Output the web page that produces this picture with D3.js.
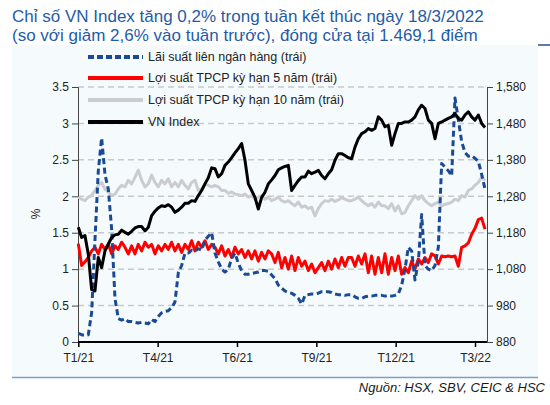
<!DOCTYPE html>
<html lang="vi">
<head>
<meta charset="utf-8">
<title>VN Index va lai suat</title>
<script src="https://cdn.jsdelivr.net/npm/d3@7"></script>
<style>
  body { margin: 0; background: #fff; }
  svg { font-family: "Liberation Sans", Arial, sans-serif; }
  .tick text { font-size: 12px; fill: #222; }
</style>
</head>
<body>
<svg id="chart" width="550" height="405"></svg>
<script>
// each point ~ 2.5 trading days, 18/3/2022 is the last point
var xLabels = ['T1/21', 'T4/21', 'T6/21', 'T9/21', 'T12/21', 'T3/22'];
var xLabelAt = [0, 23.8, 47.6, 71.4, 95.2, 119];

var leftTicks = [0, 0.5, 1, 1.5, 2, 2.5, 3, 3.5];
var rightTicks = [880, 980, 1080, 1180, 1280, 1380, 1480, 1580];

var vnIndex = [1195,1167,1172,1121,1024,1020,1112,1084,1130,1149,1167,1174,1176,1187,1181,1176,1184,1193,1197,1197,1185,1195,1227,1239,1248,1254,1252,1257,1250,1236,1242,1250,1261,1261,1268,1266,1282,1296,1314,1331,1358,
  1356,1333,1342,1365,1374,1386,1399,1411,1425,1379,1314,1296,1277,1245,1277,1291,1314,1325,1337,1353,1358,1362,1365,1296,1310,1323,1333,1333,1349,1342,1346,1351,1337,1328,1342,1353,1379,1397,1397,1392,1386,
  1383,1415,1438,1452,1457,1466,1461,1466,1498,1489,1471,1475,1420,1452,1480,1480,1484,1484,1489,1498,1517,1530,1521,1489,1480,1438,1480,1484,1489,1494,1498,1507,1494,1489,1503,1512,1498,1489,1503,1480,1469];

var bond10y = [1.99,1.96,1.94,1.99,2.01,2.08,2.15,2.19,2.10,2.06,2.01,2.03,2.10,2.15,2.13,2.22,2.17,2.26,2.36,2.22,2.13,2.17,2.29,2.19,2.13,2.22,2.17,2.24,2.13,2.19,2.13,2.22,2.15,2.10,2.19,2.22,2.08,2.10,2.17,2.15,2.13,
  2.15,2.13,2.08,2.08,2.04,2.06,2.03,2.02,2.01,2.03,1.99,2.01,1.96,1.99,2.01,1.96,1.99,1.94,1.96,1.99,1.94,1.92,1.94,1.90,1.87,1.92,1.85,1.87,1.83,1.85,1.73,1.83,1.90,1.94,1.93,1.96,1.93,1.95,1.98,1.96,1.94,
  1.94,1.96,1.99,1.94,1.90,1.87,1.90,1.85,1.92,1.87,1.87,1.83,1.90,1.80,1.87,1.76,1.78,1.87,1.94,2.01,1.96,2.01,1.94,1.90,1.87,1.90,1.92,1.87,1.89,1.90,1.92,1.96,1.94,2.01,1.99,2.08,2.10,2.15,2.19,2.26,2.22];

var bond5y = [1.35,1.05,1.10,1.16,1.25,1.30,1.21,1.34,1.27,1.34,1.21,1.32,1.27,1.37,1.30,1.21,1.32,1.21,1.34,1.25,1.37,1.30,1.34,1.21,1.32,1.25,1.34,1.27,1.37,1.25,1.34,1.23,1.34,1.27,1.39,1.25,1.37,1.30,1.39,1.27,1.34,
  1.30,1.21,1.32,1.18,1.27,1.16,1.30,1.21,1.27,1.16,1.25,1.14,1.25,1.11,1.23,1.14,1.25,1.21,1.09,1.23,1.02,1.16,1.00,1.18,0.98,1.16,1.04,1.11,0.98,1.07,0.95,1.02,1.09,0.98,1.11,1.00,1.14,1.02,1.16,1.04,1.16,
  1.16,1.04,1.18,1.07,1.21,0.95,1.18,0.93,1.16,0.95,1.21,0.93,1.16,0.98,1.18,0.93,1.02,0.95,1.11,1.00,1.14,1.07,1.16,1.09,1.21,1.18,1.07,1.18,1.17,1.18,1.17,1.18,1.04,1.30,1.32,1.36,1.48,1.56,1.68,1.70,1.55];

var interbank = [0.12,0.10,0.09,0.10,0.40,1.40,2.35,2.80,2.30,2.10,1.55,0.60,0.32,0.30,0.32,0.28,0.28,0.27,0.26,0.27,0.26,0.25,0.31,0.28,0.35,0.40,0.42,0.43,0.47,0.55,0.95,1.05,1.22,1.22,1.26,1.25,1.28,1.26,1.40,1.45,1.50,
  1.22,1.10,1.00,0.96,1.00,1.15,1.22,1.08,0.98,0.93,0.93,0.94,0.95,0.96,0.98,0.98,0.97,0.92,0.87,0.78,0.74,0.70,0.68,0.67,0.64,0.60,0.52,0.64,0.65,0.66,0.66,0.67,0.69,0.69,0.69,0.68,0.66,0.65,0.65,0.64,0.65,
  0.65,0.62,0.60,0.60,0.62,0.63,0.63,0.64,0.64,0.64,0.63,0.64,0.63,0.64,0.66,0.78,1.00,1.30,1.25,0.85,1.10,1.75,1.05,1.00,0.98,1.05,1.30,2.45,2.40,2.35,2.28,3.35,3.05,2.75,2.60,2.55,2.56,2.52,2.48,2.30,2.10];

var legendNames = ['Lãi suất liên ngân hàng (trái)', 'Lợi suất TPCP kỳ hạn 5 năm (trái)', 'Lợi suất TPCP kỳ hạn 10 năm (trái)', 'VN Index'];

var svg = d3.select('#chart');

// ---- frame ----
svg.append('rect')
  .attr('x', 12).attr('y', 45).attr('width', 526).attr('height', 332)
  .attr('fill', '#f5fbfd');
svg.append('line')
  .attr('x1', 12).attr('x2', 538).attr('y1', 377.5).attr('y2', 377.5)
  .attr('stroke', '#7e9cc6').attr('stroke-width', 1.5);
svg.append('line')
  .attr('x1', 538).attr('x2', 550).attr('y1', 45).attr('y2', 45)
  .attr('stroke', '#24508f').attr('stroke-width', 1.5);

// ---- title ----
var title = svg.append('g').attr('fill', '#1f5ca8').style('font-size', '17px');
title.append('text').attr('x', 12).attr('y', 22)
  .text('Chỉ số VN Index tăng 0,2% trong tuần kết thúc ngày 18/3/2022');
title.append('text').attr('x', 12).attr('y', 41)
  .text('(so với giảm 2,6% vào tuần trước), đóng cửa tại 1.469,1 điểm');

// ---- scales ----
var x = d3.scaleLinear().domain([0, vnIndex.length - 1]).range([78.3, 485]);
var yL = d3.scaleLinear().domain([0, 3.5]).range([342, 87]);
var yR = d3.scaleLinear().domain([880, 1580]).range([342, 87]);

// gridlines
svg.append('g')
  .selectAll('line')
  .data(leftTicks.slice(1))
  .enter()
  .append('line')
  .attr('x1', 78).attr('x2', 487)
  .attr('y1', function(d) { return yL(d); })
  .attr('y2', function(d) { return yL(d); })
  .attr('stroke', '#c9c9c9')
  .attr('stroke-width', 1.5)
  .attr('stroke-dasharray', '6,4');

// ---- axes ----
var axL = svg.append('g')
  .attr('transform', 'translate(78,0)')
  .call(d3.axisLeft(yL).tickValues(leftTicks).tickSize(6).tickPadding(3)
    .tickFormat(function(d) { return String(d); }));
var axR = svg.append('g')
  .attr('transform', 'translate(487,0)')
  .call(d3.axisRight(yR).tickValues(rightTicks).tickSize(6).tickPadding(3)
    .tickFormat(d3.format(',')));
[axL, axR].forEach(function(ax) {
  ax.select('.domain').attr('stroke', '#444');
  ax.selectAll('.tick line').attr('stroke', '#444');
});

svg.append('text')
  .attr('transform', 'translate(40,214) rotate(-90)')
  .attr('text-anchor', 'middle')
  .style('font-size', '12px')
  .attr('fill', '#222')
  .text('%');

// ---- series ----
var lineL = d3.line()
  .x(function(d, i) { return x(i); })
  .y(function(d) { return yL(d); });
var lineR = d3.line()
  .x(function(d, i) { return x(i); })
  .y(function(d) { return yR(d); });

var series = [
  { data: bond10y, line: lineL, color: '#cbccd1', dash: null },
  { data: bond5y, line: lineL, color: '#ff0000', dash: null },
  { data: interbank, line: lineL, color: '#1b4a94', dash: '6,3.5' },
  { data: vnIndex, line: lineR, color: '#000000', dash: null }
];

svg.append('g')
  .selectAll('path')
  .data(series)
  .enter()
  .append('path')
  .attr('d', function(d) { return d.line(d.data); })
  .attr('fill', 'none')
  .attr('stroke', function(d) { return d.color; })
  .attr('stroke-width', 3)
  .attr('stroke-linejoin', 'round')
  .attr('stroke-dasharray', function(d) { return d.dash; });

// x axis on top of the lines
var axX = svg.append('g')
  .attr('transform', 'translate(0,342)')
  .call(d3.axisBottom(x).tickValues(xLabelAt).tickSize(5).tickPadding(6)
    .tickFormat(function(d, i) { return xLabels[i]; }));
axX.select('.domain').attr('stroke', '#000').attr('stroke-width', 2.2)
  .attr('d', 'M78,0H487');
axX.selectAll('.tick line').attr('stroke', '#000').attr('stroke-width', 1.5);

// ---- legend ----
var legendColors = ['#1b4a94', '#ff0000', '#cbccd1', '#000000'];
var legendDash = ['6,3', null, null, null];
var legendY = [57, 78, 100, 122];

var lg = svg.append('g')
  .selectAll('g')
  .data(legendNames)
  .enter()
  .append('g')
  .attr('transform', function(d, i) { return 'translate(0,' + legendY[i] + ')'; });
lg.append('line')
  .attr('x1', 88).attr('x2', 143)
  .attr('stroke', function(d, i) { return legendColors[i]; })
  .attr('stroke-width', 4)
  .attr('stroke-dasharray', function(d, i) { return legendDash[i]; });
lg.append('text')
  .attr('x', 148)
  .attr('dy', '0.35em')
  .style('font-size', '12.5px')
  .attr('fill', '#222')
  .text(function(d) { return d; });

// ---- source ----
svg.append('text')
  .attr('x', 545).attr('y', 392)
  .attr('text-anchor', 'end')
  .style('font-size', '13px')
  .style('font-style', 'italic')
  .attr('fill', '#1a1a1a')
  .text('Nguồn: HSX, SBV, CEIC & HSC');
</script>
</body>
</html>
